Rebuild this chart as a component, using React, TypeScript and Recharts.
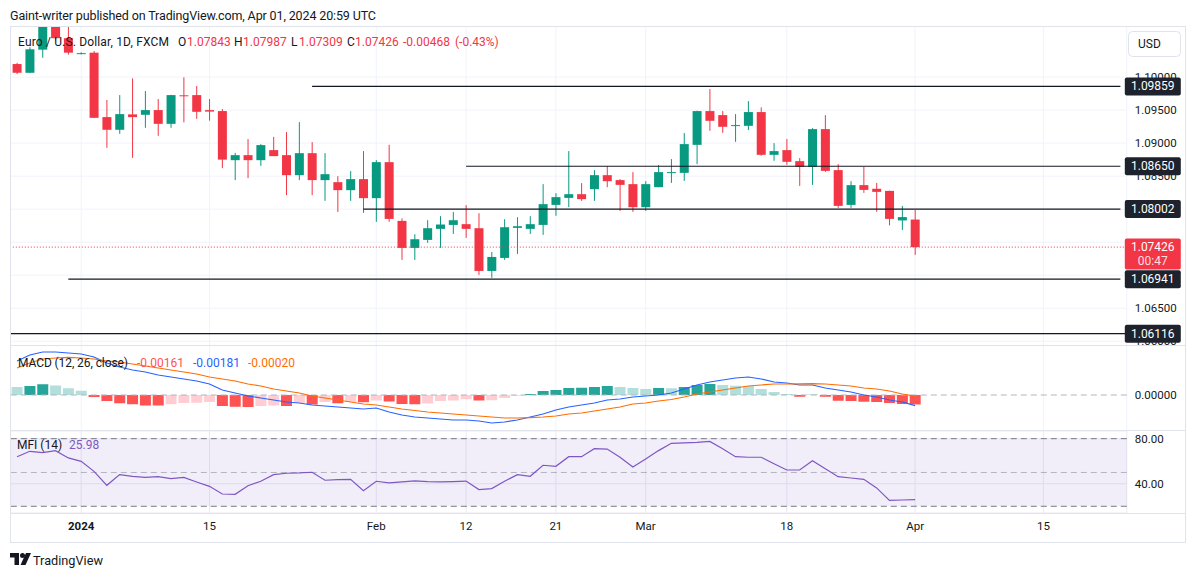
import React from 'react';
import {
  ComposedChart,
  Bar,
  Line,
  XAxis,
  YAxis,
  ReferenceLine,
  ReferenceArea,
  CartesianGrid,
  Cell,
} from 'recharts';

const W = 1195;
const H = 577;
const FONT = 'Roboto, "Noto Sans", "DejaVu Sans", sans-serif';
const TEXT = '#131722';
const UP = '#089981';
const DOWN = '#F23645';

// ---- candle data (Dec 25 2023 .. Apr 1 2024, daily) ----
const opens = [
  1.10197, 1.10065, 1.10415, 1.1104, 1.10588, 1.1036, 1.10369, 1.09394, 1.09202, 1.09435,
  1.09429, 1.095, 1.09292, 1.09724, 1.09727, 1.095, 1.09485, 1.08742, 1.08818, 1.08742,
  1.08894, 1.08818, 1.08515, 1.08848, 1.0844, 1.08409, 1.08288, 1.08455, 1.08167, 1.08712,
  1.07823, 1.07414, 1.07535, 1.07702, 1.07762, 1.07773, 1.07712, 1.07065, 1.07262, 1.07717,
  1.07702, 1.07762, 1.08065, 1.08171, 1.08227, 1.08303, 1.08515, 1.0844, 1.08379, 1.0803,
  1.08333, 1.08556, 1.0855, 1.08974, 1.09485, 1.09424, 1.09268, 1.09262, 1.0947, 1.08823,
  1.08894, 1.08727, 1.08641, 1.09212, 1.08591, 1.08065, 1.08364, 1.08309, 1.08277, 1.0783,
  1.07843,
];
const highs = [
  1.10215, 1.10451, 1.1112, 1.1139, 1.1085, 1.10375, 1.10394, 1.09652, 1.09727, 1.0998,
  1.09788, 1.09667, 1.0973, 1.09995, 1.09864, 1.09667, 1.09515, 1.08853, 1.09061, 1.08985,
  1.09095, 1.09167, 1.09318, 1.09015, 1.08848, 1.085, 1.08576, 1.08879, 1.08742, 1.08974,
  1.0786, 1.07621, 1.07833, 1.07894, 1.07959, 1.08061, 1.07939, 1.07353, 1.07848, 1.07879,
  1.07894, 1.08379, 1.08242, 1.08879, 1.08394, 1.08591, 1.08652, 1.08455, 1.08561, 1.08424,
  1.08667, 1.08758, 1.09152, 1.0949, 1.09818, 1.09485, 1.09439, 1.09636, 1.09541, 1.09,
  1.09061, 1.08773, 1.09227, 1.09424, 1.08682, 1.08424, 1.08641, 1.08398, 1.0828, 1.0805,
  1.07987,
];
const lows = [
  1.10045, 1.1006, 1.10292, 1.10552, 1.1034, 1.10345, 1.0938, 1.08929, 1.09141, 1.08777,
  1.09232, 1.09111, 1.09232, 1.09314, 1.09368, 1.0934, 1.08621, 1.0844, 1.0847, 1.08656,
  1.08803, 1.08212, 1.0844, 1.08212, 1.08126, 1.07959, 1.08126, 1.07945, 1.07808, 1.07808,
  1.07232, 1.07232, 1.0749, 1.07414, 1.07626, 1.07565, 1.07005, 1.06961, 1.07232, 1.07323,
  1.07626, 1.07611, 1.07899, 1.0803, 1.08126, 1.08126, 1.08333, 1.07974, 1.07959, 1.07974,
  1.08333, 1.08398, 1.08429, 1.08682, 1.09186, 1.09156, 1.0902, 1.09197, 1.08808, 1.08732,
  1.08671, 1.08353, 1.08368, 1.08565, 1.0802, 1.0802, 1.08247, 1.07961, 1.07755, 1.07686,
  1.07309,
];
const closes = [
  1.10065, 1.1042, 1.1104, 1.10588, 1.10369, 1.10362, 1.09383, 1.09202, 1.09439, 1.09394,
  1.095, 1.09292, 1.09727, 1.09712, 1.09474, 1.09477, 1.0875, 1.08818, 1.08742, 1.0897,
  1.08803, 1.08515, 1.08848, 1.0844, 1.0853, 1.08288, 1.08455, 1.08167, 1.08712, 1.07853,
  1.07414, 1.07545, 1.07712, 1.07768, 1.07833, 1.07702, 1.07065, 1.07277, 1.07727, 1.07742,
  1.07773, 1.08076, 1.08182, 1.08227, 1.08152, 1.08515, 1.08424, 1.08368, 1.0803, 1.08379,
  1.08561, 1.08561, 1.08985, 1.09485, 1.09338, 1.09247, 1.09273, 1.0947, 1.08823, 1.08879,
  1.08717, 1.08641, 1.09212, 1.0858, 1.0805, 1.08364, 1.08292, 1.08262, 1.07853, 1.0788,
  1.07426,
];

// ---- MACD (12, 26, close) ----
const macdHist = [
  0.00134, 0.00151, 0.00182, 0.00163, 0.00116, 0.00073, -0.00036, -0.00104, -0.00139, -0.00158,
  -0.00177, -0.0018, -0.00158, -0.00134, -0.00133, -0.00121, -0.00189, -0.00201, -0.00204, -0.00185,
  -0.0018, -0.00185, -0.00134, -0.00163, -0.00121, -0.00139, -0.00119, -0.00124, -0.00092, -0.00109,
  -0.00151, -0.00158, -0.00146, -0.00104, -0.00092, -0.00073, -0.00092, -0.00088, -0.00049, -0.00012,
  0.00019, 0.00068, 0.00085, 0.00119, 0.00124, 0.00136, 0.00153, 0.00136, 0.00119, 0.00102,
  0.00119, 0.00116, 0.00136, 0.0017, 0.00187, 0.0017, 0.00156, 0.00153, 0.00102, 0.00051,
  0.00017, -0.00029, 0.00005, -0.00029, -0.00097, -0.00102, -0.00114, -0.00117, -0.00136, -0.00153,
  -0.00161,
];
const macdLine = [
  0.00578, 0.0068, 0.00731, 0.00731, 0.00714, 0.00697, 0.00646, 0.00544, 0.00476, 0.00425,
  0.00391, 0.0034, 0.00306, 0.00272, 0.00238, 0.00187, 0.00085, 0.00034, -0.00017, -0.00051,
  -0.00085, -0.00119, -0.00136, -0.0017, -0.00187, -0.00204, -0.00221, -0.00238, -0.00221, -0.00289,
  -0.0034, -0.00374, -0.00391, -0.00408, -0.00425, -0.00425, -0.00442, -0.00476, -0.00459, -0.00425,
  -0.00374, -0.00323, -0.00255, -0.00204, -0.0017, -0.00136, -0.00085, -0.00068, -0.00034, -0.00017,
  0.0, 0.00034, 0.00102, 0.0017, 0.00221, 0.00255, 0.00289, 0.00306, 0.00272, 0.00221,
  0.00204, 0.0017, 0.0017, 0.00119, 0.00085, 0.00051, 0.0, -0.00034, -0.00085, -0.00119,
  -0.00181,
];
const signalLine = [
  0.00459, 0.00544, 0.00612, 0.00629, 0.00638, 0.00629, 0.00612, 0.00578, 0.00561, 0.00527,
  0.00493, 0.00459, 0.00425, 0.00391, 0.00357, 0.00306, 0.00272, 0.00238, 0.00187, 0.00153,
  0.00102, 0.00068, 0.00034, -0.00017, -0.00051, -0.00085, -0.00119, -0.00153, -0.0017, -0.00204,
  -0.00238, -0.00264, -0.00289, -0.00306, -0.00323, -0.0034, -0.00357, -0.00374, -0.00391, -0.00391,
  -0.00383, -0.00374, -0.00357, -0.00323, -0.00306, -0.00272, -0.00238, -0.00204, -0.00153, -0.00136,
  -0.00102, -0.00077, -0.00034, 0.00017, 0.00051, 0.00085, 0.00119, 0.00153, 0.0017, 0.00187,
  0.00187, 0.0019, 0.00192, 0.00187, 0.0017, 0.00153, 0.00119, 0.00102, 0.00068, 0.00017,
  -0.0002,
];

// ---- MFI (14) ----
const mfiValues = [
  64, 68.8, 67.6, 69.4, 62.9, 59.9, 51, 38.6, 48.1, 46.6,
  45.7, 46.3, 44.5, 45.7, 41.6, 37.7, 30.9, 30.6, 38.3, 42.2,
  48.1, 49.3, 49.6, 50.2, 43.1, 43.7, 43.9, 33.9, 42.2, 40.7,
  41.6, 42.5, 41.9, 41.6, 41.9, 42.4, 34.8, 35.7, 42.2, 48.1,
  46.6, 56.4, 55.5, 64, 64, 71.1, 70.8, 63.5, 54.9, 62,
  69.4, 75.9, 76.2, 76.7, 77.6, 71.1, 64, 63.5, 63.5, 57.8,
  52.2, 52.2, 60.5, 53.4, 46.3, 45.1, 43.9, 36.3, 25.3, 25.6,
  25.98,
];

const FUTURE_BARS = 16;
const timeTickIdx = [5, 15, 28, 35, 42, 49, 60, 70, 80];
const timeTickLabels = ['2024', '15', 'Feb', '12', '21', 'Mar', '18', 'Apr', '15'];
const priceTicks = [1.06, 1.065, 1.085, 1.09, 1.095, 1.1];
const gridPrices = [1.06, 1.065, 1.07, 1.075, 1.08, 1.085, 1.09, 1.095, 1.1];
const levelPrices = [1.09859, 1.0865, 1.08002, 1.06941, 1.06116];
const levelStartIdx = [23, 35, 27, 4, 0];
const lastPrice = 1.07426;
const countdown = '00:47';
const mfiTicks = [40, 80];
const macdTicks = [0];

const PRICE_DOMAIN: [number, number] = [1.05944, 1.10773];
const MACD_DOMAIN: [number, number] = [-0.00595, 0.00833];
const MFI_DOMAIN: [number, number] = [14.05, 86.8];

const N = opens.length;
const rows = Array.from({ length: N + FUTURE_BARS }, (_, i) => {
  const has = i < N;
  return {
    i,
    range: has ? [lows[i], highs[i]] : null,
    o: has ? opens[i] : null,
    h: has ? highs[i] : null,
    l: has ? lows[i] : null,
    c: has ? closes[i] : null,
    hist: has ? macdHist[i] : null,
    macd: has ? macdLine[i] : null,
    signal: has ? signalLine[i] : null,
    mfi: has ? mfiValues[i] : null,
  };
});

const histColor = (i: number) => {
  const v = macdHist[i];
  const rising = i > 0 && v > macdHist[i - 1];
  if (v >= 0) return rising ? '#26A69A' : '#B2DFDB';
  return rising ? '#FFCDD2' : '#FF5252';
};

const Candle = (props: any) => {
  const { x, y, width, height, payload } = props;
  if (!payload || payload.o == null) return null;
  const { o, h, l, c } = payload;
  const ppu = height / (h - l);
  const cx = x + width / 2;
  const top = y + (h - Math.max(o, c)) * ppu;
  const bot = y + (h - Math.min(o, c)) * ppu;
  const color = c >= o ? UP : DOWN;
  return (
    <g>
      <line x1={cx} x2={cx} y1={y} y2={y + height} stroke={color} strokeWidth={1} />
      <rect x={x} y={top} width={width} height={Math.max(1, bot - top)} fill={color} />
    </g>
  );
};

const PriceTag = (p: any) => {
  const vb = p.viewBox || {};
  const x = vb.x + vb.width - 2;
  const y = vb.y;
  const fill = p.fill;
  if (p.sub) {
    return (
      <g>
        <rect x={x} y={y - 8.5} width={56} height={31} rx={2} fill={fill} />
        <text x={x + 28} y={y + 4} textAnchor="middle" fontSize={12} fontFamily={FONT} fill="#fff">
          {p.text}
        </text>
        <text x={x + 28} y={y + 18} textAnchor="middle" fontSize={12} fontFamily={FONT} fill="#fff" fillOpacity={0.85}>
          {p.sub}
        </text>
      </g>
    );
  }
  return (
    <g>
      <rect x={x} y={y - 9} width={56} height={18} rx={2} fill={fill} />
      <text x={x + 28} y={y + 4} textAnchor="middle" fontSize={12} fontFamily={FONT} fill="#fff">
        {p.text}
      </text>
    </g>
  );
};

const TimeTick = (p: any) => {
  const v = p.payload?.value;
  const k = timeTickIdx.indexOf(v);
  const label = k >= 0 ? timeTickLabels[k] : '';
  const isYear = /^\d{4}$/.test(label);
  return (
    <text
      x={p.x}
      y={p.y}
      dy="0.71em"
      textAnchor="middle"
      fontSize={11.5}
      fontFamily={FONT}
      fill={TEXT}
      fontWeight={isYear ? 'bold' : 'normal'}
    >
      {label}
    </text>
  );
};

const LEFT = 10.6;
const RIGHT_AXIS = 60;
const RIGHT_M = 8.2;
const abs: React.CSSProperties = { position: 'absolute', left: 0, top: 0 };
const axisTick = { fill: TEXT, fontSize: 11.5, fontFamily: FONT };

export default function App() {
  return (
    <div style={{ position: 'absolute', left: 0, top: 0, width: W, height: H, background: '#fff', overflow: 'hidden' }}>
      {/* main price pane */}
      <div style={abs}>
        <ComposedChart width={W} height={H} data={rows} margin={{ top: 26, right: RIGHT_M, bottom: H - 345, left: LEFT }}>
          <CartesianGrid stroke="#F0F3FA" horizontalValues={gridPrices} />
          <XAxis dataKey="i" scale="band" hide ticks={timeTickIdx} />
          <YAxis
            orientation="right"
            width={RIGHT_AXIS}
            domain={PRICE_DOMAIN}
            allowDataOverflow
            ticks={priceTicks}
            tickFormatter={(v: number) => v.toFixed(5)}
            axisLine={false}
            tickLine={false}
            tickSize={0}
            tickMargin={8}
            tick={axisTick}
          />
          <Bar dataKey="range" barSize={9} isAnimationActive={false} shape={(p: any) => <Candle {...p} />} />
          {levelPrices.map((lv, k) =>
            levelStartIdx[k] === 0 ? (
              <ReferenceLine key={'lv' + k} y={lv} stroke="#131722" strokeWidth={1.2} />
            ) : (
              <ReferenceLine
                key={'lv' + k}
                segment={[
                  { x: levelStartIdx[k], y: lv },
                  { x: N + FUTURE_BARS - 1, y: lv },
                ]}
                stroke="#131722"
                strokeWidth={1.2}
              />
            )
          )}
          <ReferenceLine y={lastPrice} stroke={DOWN} strokeDasharray="1 2" strokeWidth={1} />
        </ComposedChart>
      </div>

      {/* MACD pane */}
      <div style={abs}>
        <ComposedChart width={W} height={H} data={rows} margin={{ top: 346, right: RIGHT_M, bottom: H - 430, left: LEFT }}>
          <CartesianGrid stroke="#F0F3FA" horizontal={false} />
          <XAxis dataKey="i" scale="band" hide ticks={timeTickIdx} />
          <YAxis
            orientation="right"
            width={RIGHT_AXIS}
            domain={MACD_DOMAIN}
            allowDataOverflow
            ticks={macdTicks}
            tickFormatter={(v: number) => v.toFixed(5)}
            axisLine={false}
            tickLine={false}
            tickSize={0}
            tickMargin={8}
            tick={axisTick}
          />
          <ReferenceLine y={0} stroke="#B2B5BE" strokeDasharray="6 4" />
          <Bar dataKey="hist" barSize={11} isAnimationActive={false}>
            {rows.map((r, i) => (
              <Cell key={i} fill={i < N ? histColor(i) : 'none'} />
            ))}
          </Bar>
          <Line dataKey="macd" stroke="#2962FF" strokeWidth={1.2} dot={false} isAnimationActive={false} />
          <Line dataKey="signal" stroke="#FF6D00" strokeWidth={1.2} dot={false} isAnimationActive={false} />
        </ComposedChart>
      </div>

      {/* MFI pane + time axis */}
      <div style={abs}>
        <ComposedChart width={W} height={H} data={rows} margin={{ top: 431, right: RIGHT_M, bottom: 37, left: LEFT }}>
          <ReferenceArea y1={20} y2={80} fill="#7E57C2" fillOpacity={0.1} stroke="none" />
          <CartesianGrid stroke="#ECE9F3" />
          <XAxis
            dataKey="i"
            scale="band"
            height={27}
            ticks={timeTickIdx}
            interval={0}
            axisLine={false}
            tickLine={false}
            tickSize={0}
            tickMargin={9}
            tick={(p: any) => <TimeTick {...p} />}
          />
          <YAxis
            orientation="right"
            width={RIGHT_AXIS}
            domain={MFI_DOMAIN}
            allowDataOverflow
            ticks={mfiTicks}
            tickFormatter={(v: number) => v.toFixed(2)}
            axisLine={false}
            tickLine={false}
            tickSize={0}
            tickMargin={8}
            tick={axisTick}
          />
          <ReferenceLine y={80} stroke="#787B86" strokeDasharray="6 4" />
          <ReferenceLine y={50} stroke="#787B86" strokeOpacity={0.5} strokeDasharray="6 4" />
          <ReferenceLine y={20} stroke="#787B86" strokeDasharray="6 4" />
          <Line dataKey="mfi" stroke="#7E57C2" strokeWidth={1.2} dot={false} isAnimationActive={false} />
        </ComposedChart>
      </div>

      {/* price tags on the right scale */}
      <div style={{ ...abs, pointerEvents: 'none' }}>
        <ComposedChart width={W} height={H} data={rows} margin={{ top: 26, right: RIGHT_M + RIGHT_AXIS, bottom: H - 345, left: LEFT }}>
          <XAxis dataKey="i" scale="band" hide />
          <YAxis hide domain={PRICE_DOMAIN} allowDataOverflow />
          {levelPrices.map((lv, k) => (
            <ReferenceLine
              key={'tag' + k}
              y={lv}
              stroke="transparent"
              ifOverflow="visible"
              label={(p: any) => <PriceTag viewBox={p.viewBox} text={lv.toFixed(5)} fill="#1E222D" />}
            />
          ))}
          <ReferenceLine
            y={lastPrice}
            stroke="transparent"
            ifOverflow="visible"
            label={(p: any) => <PriceTag viewBox={p.viewBox} text={lastPrice.toFixed(5)} sub={countdown} fill={DOWN} />}
          />
        </ComposedChart>
      </div>

      {/* static chrome: header, legends, frame, logo */}
      <svg width={W} height={H} style={{ ...abs, pointerEvents: 'none' }} fontFamily={FONT}>
        <text x={10} y={19.5} fontSize={12.5} fill={TEXT} textLength={366} lengthAdjust="spacing">
          Gaint-writer published on TradingView.com, Apr 01, 2024 20:59 UTC
        </text>
        <g stroke="#E0E3EB" strokeWidth={1} fill="none">
          <line x1={10} x2={1185} y1={26.5} y2={26.5} />
          <line x1={10} x2={1185} y1={345.5} y2={345.5} />
          <line x1={10} x2={1185} y1={430.5} y2={430.5} />
          <line x1={10} x2={1185} y1={513.5} y2={513.5} />
          <line x1={10} x2={1185} y1={542.5} y2={542.5} />
          <line x1={10.5} x2={10.5} y1={26} y2={543} />
          <line x1={1185.5} x2={1185.5} y1={26} y2={543} />
        </g>
        <g fontSize={12}>
          <text x={18} y={46} fill={TEXT} textLength={151} lengthAdjust="spacing">Euro / U.S. Dollar, 1D, FXCM</text>
          <text x={178} y={46} fill={TEXT}>O</text>
          <text x={187} y={46} fill={DOWN}>1.07843</text>
          <text x={234} y={46} fill={TEXT}>H</text>
          <text x={243} y={46} fill={DOWN}>1.07987</text>
          <text x={291} y={46} fill={TEXT}>L</text>
          <text x={299} y={46} fill={DOWN}>1.07309</text>
          <text x={347} y={46} fill={TEXT}>C</text>
          <text x={355} y={46} fill={DOWN}>1.07426</text>
          <text x={403} y={46} fill={DOWN}>-0.00468</text>
          <text x={455} y={46} fill={DOWN}>(-0.43%)</text>
        </g>
        <g fontSize={12}>
          <text x={18} y={367} fill={TEXT} textLength={110} lengthAdjust="spacing">MACD (12, 26, close)</text>
          <text x={137} y={367} fill="#FF5252">-0.00161</text>
          <text x={193} y={367} fill="#2962FF">-0.00181</text>
          <text x={248} y={367} fill="#FF6D00">-0.00020</text>
          <text x={17} y={449} fill={TEXT}>MFI (14)</text>
          <text x={69} y={449} fill="#7E57C2">25.98</text>
        </g>
        <rect x={1128.5} y={31.5} width={52} height={25} rx={4} fill="#fff" stroke="#E0E3EB" />
        <text x={1138} y={48} fontSize={12} fill={TEXT}>USD</text>
        <g fill={TEXT}>
          <path d="M10 553 h9 v12 h-4.5 v-7.5 h-4.5 z" />
          <circle cx={22.5} cy={555.5} r={2.5} />
          <path d="M26 553 h5 l-5.5 12 h-5 z" />
          <text x={33} y={564.5} fontSize={13.5} textLength={70} lengthAdjust="spacingAndGlyphs">TradingView</text>
        </g>
      </svg>
    </div>
  );
}
